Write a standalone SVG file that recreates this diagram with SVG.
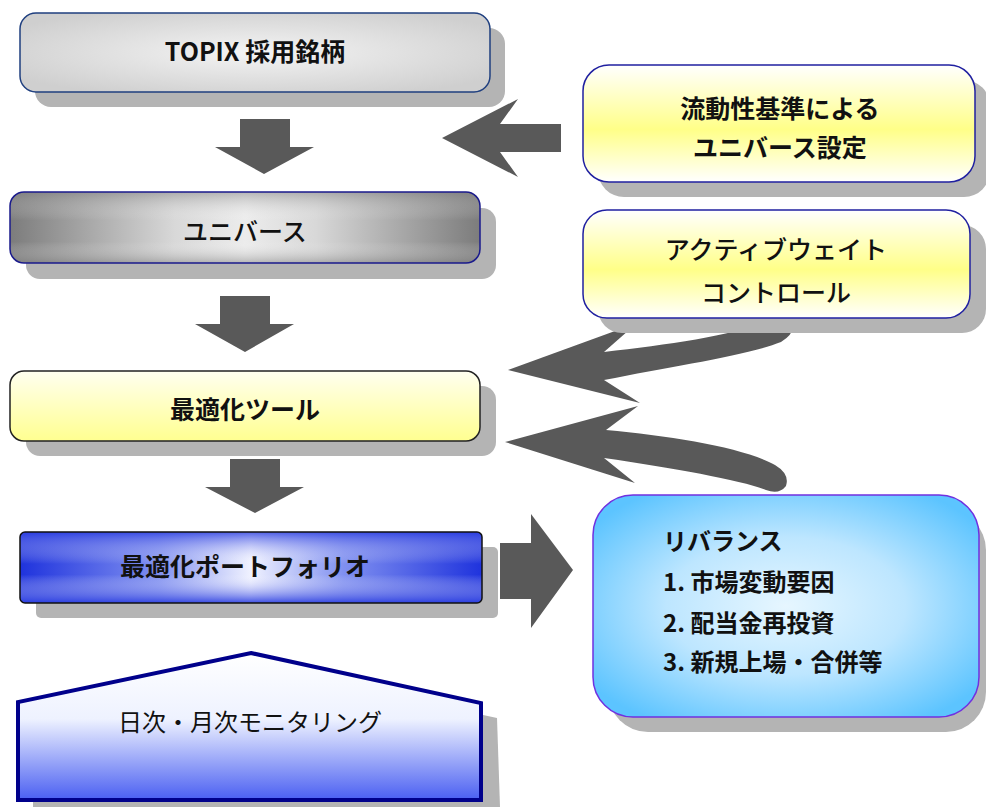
<svg xmlns="http://www.w3.org/2000/svg" width="986" height="807" viewBox="0 0 986 807">
<style>
text{font-family:"Noto Sans CJK JP","Liberation Sans",sans-serif;font-size:24px;fill:#111;}
.b{font-weight:bold;}
.m{font-weight:500;}
.c{text-anchor:middle;}
.l{font-size:25px;}
.sh{fill:#b4b4b4;}
.arr{fill:#595959;}
</style>
<defs>
<radialGradient id="gGray" cx="0.5" cy="0.5" r="0.6">
<stop offset="0" stop-color="#f4f4f4"/><stop offset="1" stop-color="#cfcfcf"/>
</radialGradient>
<linearGradient id="gUni" x1="0" y1="0" x2="1" y2="0">
<stop offset="0" stop-color="#7c7c7c"/><stop offset="0.35" stop-color="#d8d8d8"/><stop offset="0.5" stop-color="#ececec"/><stop offset="0.65" stop-color="#d8d8d8"/><stop offset="1" stop-color="#7c7c7c"/>
</linearGradient>
<linearGradient id="gUniV" x1="0" y1="0" x2="0" y2="1">
<stop offset="0" stop-color="#808080" stop-opacity="0.5"/><stop offset="0.4" stop-color="#ffffff" stop-opacity="0"/><stop offset="0.7" stop-color="#ffffff" stop-opacity="0"/><stop offset="1" stop-color="#808080" stop-opacity="0.5"/>
</linearGradient>
<linearGradient id="gYel" x1="0" y1="0" x2="0" y2="1">
<stop offset="0" stop-color="#ffffff"/><stop offset="0.55" stop-color="#ffff88"/><stop offset="1" stop-color="#ffffff"/>
</linearGradient>
<linearGradient id="gYel2" x1="0" y1="0" x2="0" y2="1">
<stop offset="0" stop-color="#fffff0"/><stop offset="1" stop-color="#ffff90"/>
</linearGradient>
<linearGradient id="gBlueH" x1="0" y1="0" x2="1" y2="0">
<stop offset="0" stop-color="#1f33dd"/><stop offset="0.3" stop-color="#8090f0"/><stop offset="0.5" stop-color="#f0f2ff"/><stop offset="0.7" stop-color="#8090f0"/><stop offset="1" stop-color="#1f33dd"/>
</linearGradient>
<linearGradient id="gBlueV" x1="0" y1="0" x2="0" y2="1">
<stop offset="0" stop-color="#2a3de0" stop-opacity="0.8"/><stop offset="0.45" stop-color="#ffffff" stop-opacity="0"/><stop offset="0.6" stop-color="#ffffff" stop-opacity="0"/><stop offset="1" stop-color="#2a3de0" stop-opacity="0.9"/>
</linearGradient>
<linearGradient id="gPent" x1="0" y1="0" x2="0" y2="1">
<stop offset="0" stop-color="#ffffff"/><stop offset="0.45" stop-color="#eef2ff"/><stop offset="1" stop-color="#4a5ff2"/>
</linearGradient>
<radialGradient id="gCyan" cx="0.5" cy="0.5" r="0.62">
<stop offset="0" stop-color="#e6f6ff"/><stop offset="0.5" stop-color="#bde6ff"/><stop offset="1" stop-color="#5cc4ff"/>
</radialGradient>
</defs>

<g id="connectors">
<polygon class="arr" points="240,119 290,119 290,147 314,147 264,174 215,147 240,147"/>
<polygon class="arr" points="220,296 270,296 270,324 294,324 245,352 195,324 220,324"/>
<polygon class="arr" points="230,459 280,459 280,487 304,487 255,513 205,487 230,487"/>
<polygon class="arr" points="500,543 531,543 531,514 573,570 531,628 531,599 500,599"/>
<polygon class="arr" points="442,138 518,99 500,124 561,124 561,152 500,152 518,177"/>
<path class="arr" d="M508 370 L637 323 L604 352 C673 344 745 334 772 318 Q785 311 792 322 Q796 333 781 342 C745 356 673 366 604 380 L640 403 Z"/>
<path class="arr" d="M505 442 L638 406 L606 430 C673 436 745 448 775 465 Q790 474 786 486 Q779 495 766 490 C745 481 673 468 604 458 L635 483 Z"/>
</g>

<g id="topix">
<rect class="sh" x="35" y="28" width="470" height="79" rx="16"/>
<rect x="20" y="13" width="470" height="79" rx="16" fill="url(#gGray)" stroke="#1f3f7f" stroke-width="1.5"/>
<text class="b c l" x="255" y="61">TOPIX 採用銘柄</text>
</g>

<g id="universe">
<rect class="sh" x="26" y="208" width="470" height="71" rx="14"/>
<rect x="10" y="192" width="470" height="71" rx="14" fill="url(#gUni)"/>
<rect x="10" y="192" width="470" height="71" rx="14" fill="url(#gUniV)" stroke="#1a1a8c" stroke-width="1.5"/>
<text class="m c l" x="245" y="241">ユニバース</text>
</g>

<g id="liquidity">
<rect class="sh" x="598" y="80" width="392" height="117" rx="26"/>
<rect x="583" y="65" width="392" height="117" rx="26" fill="url(#gYel)" stroke="#2020a0" stroke-width="1.5"/>
<text class="b c l" x="780" y="118">流動性基準による</text>
<text class="b c l" x="780" y="157">ユニバース設定</text>
</g>

<g id="active">
<rect class="sh" x="598" y="225" width="388" height="108" rx="24"/>
<rect x="583" y="210" width="387" height="108" rx="24" fill="url(#gYel)" stroke="#2020a0" stroke-width="1.5"/>
<text class="m c l" x="776" y="259">アクティブウェイト</text>
<text class="m c l" x="776" y="302">コントロール</text>
</g>

<g id="optool">
<rect class="sh" x="26" y="386" width="470" height="70" rx="14"/>
<rect x="10" y="371" width="470" height="70" rx="14" fill="url(#gYel2)" stroke="#222" stroke-width="1.5"/>
<text class="b c l" x="245" y="419">最適化ツール</text>
</g>

<g id="opportfolio">
<rect class="sh" x="36" y="547" width="462" height="71" rx="5"/>
<rect x="20" y="532" width="462" height="71" rx="5" fill="url(#gBlueH)"/>
<rect x="20" y="532" width="462" height="71" rx="5" fill="url(#gBlueV)" stroke="#111" stroke-width="1.5"/>
<text class="b c l" x="245" y="576">最適化ポートフォリオ</text>
</g>

<g id="monitoring">
<polygon class="sh" points="266,668 497,718 500,807 33,807 33,718"/>
<polygon points="251,653 481,703 481,800 18,800 18,702" fill="url(#gPent)" stroke="#00008b" stroke-width="4" stroke-linejoin="miter"/>
<text class="c" x="250" y="731">日次・月次モニタリング</text>
</g>

<g id="rebalance">
<rect class="sh" x="608" y="510" width="378" height="222" rx="40"/>
<rect x="593" y="495" width="386" height="222" rx="40" fill="url(#gCyan)" stroke="#7030e0" stroke-width="1.5"/>
<text class="b" x="663" y="550">リバランス</text>
<text class="b" x="663" y="591">1. 市場変動要因</text>
<text class="b" x="663" y="632">2. 配当金再投資</text>
<text class="b" x="663" y="671">3. 新規上場・合併等</text>
</g>
</svg>
